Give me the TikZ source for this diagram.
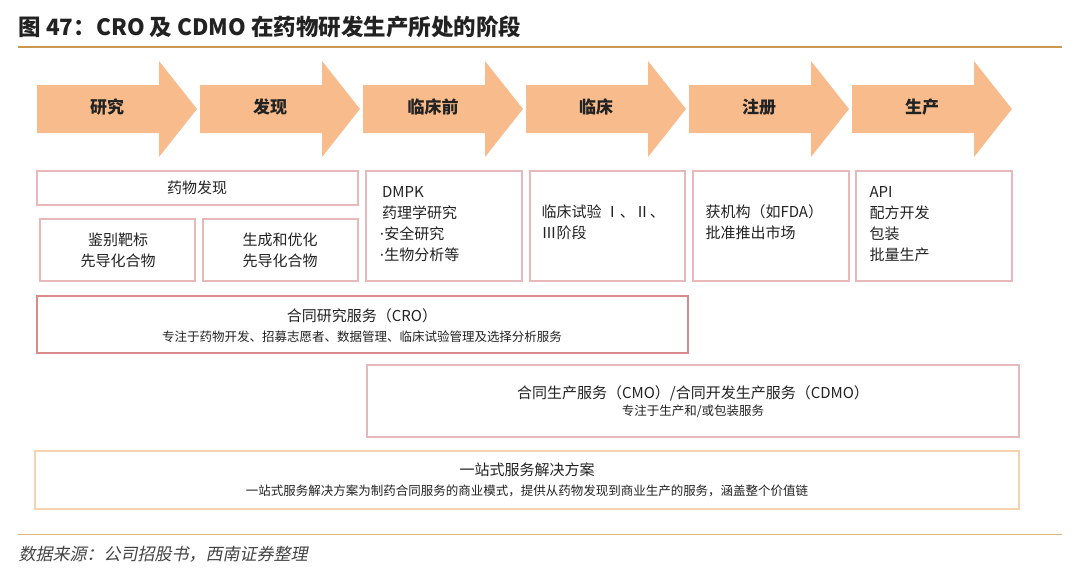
\documentclass[tikz,border=0pt]{standalone}
\usepackage{fontspec}
\setmainfont{Noto Sans CJK SC}
\newfontfamily\slfont[FakeSlant=0.2]{Noto Sans CJK SC}
\newfontfamily\dv{DejaVu Sans}
\newcommand{\mdot}{{\dv\char"00B7}}
\definecolor{arr}{HTML}{F8BC8C}
\definecolor{pk}{HTML}{E6B8BA}
\definecolor{rd}{HTML}{D98A8C}
\definecolor{og}{HTML}{F6D2AE}
\definecolor{rule}{HTML}{C99A4E}
\definecolor{tx}{HTML}{222222}
\begin{document}
\begin{tikzpicture}[x=1pt,y=-1pt,
  stg/.style={fill=arr,draw=none},
  stl/.style={font=\fontsize{17}{20}\selectfont\bfseries,text=tx},
  bx/.style={draw=pk,line width=1.2pt,fill=white},
  t/.style={font=\fontsize{15}{21}\selectfont,text=tx,align=left},
  s/.style={font=\fontsize{12.5}{15}\selectfont,text=tx}]
\useasboundingbox (0,0) rectangle (1080,581);
\node[anchor=west,font=\fontsize{22.5}{26}\selectfont\bfseries,text=tx] (title) at (15,27) {图 47：CRO 及 CDMO 在药物研发生产所处的阶段};
\draw[rule,line width=2pt] (18,47) -- (1062,47);
\foreach \x/\l/\n in {37/研究/a1,200/发现/a2,363/临床前/a3,526/临床/a4,689/注册/a5,852/生产/a6}{
  \fill[stg] (\x,85) -- (\x+122,85) -- (\x+122,61) -- (\x+160,109) -- (\x+122,157) -- (\x+122,133) -- (\x,133) -- cycle;
  \node[stl] (\n) at (\x+70,107) {\l};
}
\draw[bx] (37,171) rectangle (358,205); \node[t] (b1) at (197,188) {药物发现};
\draw[bx] (40,219) rectangle (195,281); \node[t,align=center] (b2) at (118,250) {鉴别靶标\\先导化合物};
\draw[bx] (203,219) rectangle (358,281); \node[t,align=center] (b3) at (280,250) {生成和优化\\先导化合物};
\draw[bx] (366,171) rectangle (522,281); \node[t,anchor=north west] (b4) at (376,183) {\,DMPK\\\,药理学研究\\\mdot 安全研究\\\mdot 生物分析等};
\draw[bx] (530,171) rectangle (685,281); \node[t,anchor=north west] (b5) at (538,201) {临床试验 Ⅰ、Ⅱ、\\Ⅲ阶段};
\draw[bx] (693,171) rectangle (849,281); \node[t,anchor=north west] (b6) at (702,201) {获机构（如FDA）\\批准推出市场};
\draw[bx] (856,171) rectangle (1012,281); \node[t,anchor=north west] (b7) at (866,183) {API\\配方开发\\包装\\批量生产};
\draw[draw=rd,line width=1.4pt,fill=white] (37,296) rectangle (688,353);
\node[t] (c1) at (362,316) {合同研究服务（CRO）};
\node[s] (c2) at (362,337) {专注于药物开发、招募志愿者、数据管理、临床试验管理及选择分析服务};
\draw[bx] (367,365) rectangle (1019,437);
\node[t] (d1) at (693,393) {合同生产服务（CMO）/合同开发生产服务（CDMO）};
\node[s] (d2) at (693,411) {专注于生产和/或包装服务};
\draw[draw=og,line width=1.4pt,fill=white] (35,451) rectangle (1019,509);
\node[t] (e1) at (527,470) {一站式服务解决方案};
\node[s] (e2) at (527,491) {一站式服务解决方案为制药合同服务的商业模式，提供从药物发现到商业生产的服务，涵盖整个价值链};
\draw[rule!70,line width=1pt] (18,534) -- (1062,534);
\node[anchor=west,font=\fontsize{17}{20}\slfont,text=tx!85] (src) at (15,554) {数据来源：公司招股书，西南证券整理};
\end{tikzpicture}
\end{document}
